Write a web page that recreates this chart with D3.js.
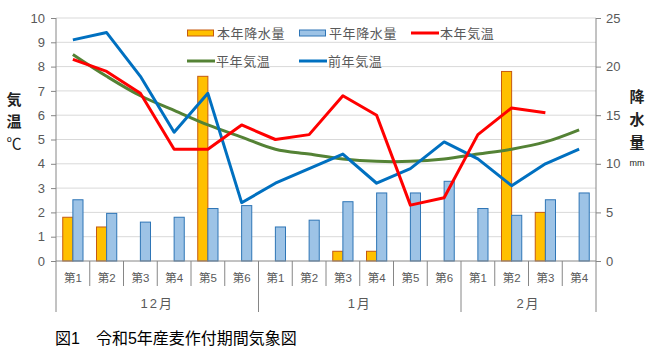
<!DOCTYPE html>
<html>
<head>
<meta charset="utf-8">
<script src="https://cdn.jsdelivr.net/npm/d3@7"></script>
<style>
  body { margin: 0; background: #fff; }
  svg { display: block; font-family: "Liberation Sans", "Noto Sans CJK JP", sans-serif; }
</style>
</head>
<body>
<svg id="chart" width="654" height="351"></svg>
<script>
// categories (weeks) and month groups
var weeks = ['第1','第2','第3','第4','第5','第6','第1','第2','第3','第4','第5','第6','第1','第2','第3','第4'];
var months = [
  { name: '12月', from: 0, to: 6 },
  { name: '1月', from: 6, to: 12 },
  { name: '2月', from: 12, to: 16 }
];

// precipitation (mm, right axis)
var rainThisYear = [4.5, 3.5, 0, 0, 19, 0, 0, 0, 1, 1, 0, 0, 0, 19.5, 5, 0];
var rainNormal   = [6.3, 4.9, 4.0, 4.5, 5.4, 5.7, 3.5, 4.2, 6.1, 7.0, 7.0, 8.2, 5.4, 4.7, 6.3, 7.0];

// temperature (°C, left axis)
var tempThisYear = [8.3, 7.8, 6.9, 4.6, 4.6, 5.6, 5.0, 5.2, 6.8, 6.0, 2.3, 2.6, 5.2, 6.3, 6.1, null];
var tempNormal   = [8.5, 7.6, 6.8, 6.2, 5.6, 5.1, 4.6, 4.4, 4.2, 4.1, 4.1, 4.2, 4.4, 4.6, 4.9, 5.4];
var tempLastYear = [9.1, 9.4, 7.6, 5.3, 6.9, 2.4, 3.2, 3.8, 4.4, 3.2, 3.8, 4.9, 4.2, 3.1, 4.0, 4.6];

var leftTicks = d3.range(0, 11);
var rightTicks = [0, 5, 10, 15, 20, 25];

(function() {

	var svg = d3.select('#chart');

	var left = 56, right = 596, top = 18, bottom = 261,
		textColor = '#595959',
		gridColor = '#d9d9d9',
		axisColor = '#868686';

	var x = d3.scaleBand()
		.domain(d3.range(weeks.length))
		.range([left, right])
		.padding(0);

	var xBar = d3.scaleBand()
		.domain(['this', 'normal'])
		.range([x.bandwidth() * 0.2, x.bandwidth() * 0.8])
		.padding(0);

	var yL = d3.scaleLinear().domain([0, 10]).range([bottom, top]);
	var yR = d3.scaleLinear().domain([0, 25]).range([bottom, top]);

	//gridlines
	svg.append('g').selectAll('line')
		.data(leftTicks.filter(function(d) { return d > 0; }))
		.enter().append('line')
			.attr('x1', left).attr('x2', right)
			.attr('y1', function(d) { return yL(d); })
			.attr('y2', function(d) { return yL(d); })
			.attr('stroke', gridColor)
			.attr('stroke-width', 1);

	//left axis
	var axL = svg.append('g')
		.attr('transform', 'translate(' + left + ',0)')
		.call(d3.axisLeft(yL).tickValues(leftTicks).tickSize(5).tickPadding(6));
	axL.select('.domain').remove();
	axL.selectAll('line').attr('stroke', axisColor);
	axL.selectAll('text').attr('fill', textColor).attr('font-size', 13);

	//right axis
	var axR = svg.append('g')
		.attr('transform', 'translate(' + right + ',0)')
		.call(d3.axisRight(yR).tickValues(rightTicks).tickSize(5).tickPadding(5));
	axR.select('.domain').remove();
	axR.selectAll('line').attr('stroke', axisColor);
	axR.selectAll('text').attr('fill', textColor).attr('font-size', 13);

	//bars
	var bars = svg.append('g');
	var rainRows = rainThisYear.map(function(v, i) { return { i: i, v: v }; })
		.filter(function(d) { return d.v > 0; });
	bars.selectAll('rect.this')
		.data(rainRows)
		.enter().append('rect')
			.attr('class', 'this')
			.attr('x', function(d) { return x(d.i) + xBar('this'); })
			.attr('y', function(d) { return yR(d.v); })
			.attr('width', xBar.bandwidth())
			.attr('height', function(d) { return yR(0) - yR(d.v); })
			.attr('fill', '#ffc000')
			.attr('stroke', '#c55a11')
			.attr('stroke-width', 1);

	bars.selectAll('rect.normal')
		.data(rainNormal)
		.enter().append('rect')
			.attr('class', 'normal')
			.attr('x', function(d, i) { return x(i) + xBar('normal'); })
			.attr('y', function(d) { return yR(d); })
			.attr('width', xBar.bandwidth())
			.attr('height', function(d) { return yR(0) - yR(d); })
			.attr('fill', '#9dc3e6')
			.attr('stroke', '#2e75b6')
			.attr('stroke-width', 1);

	//axis lines
	svg.append('line').attr('x1', left).attr('x2', right).attr('y1', bottom).attr('y2', bottom)
		.attr('stroke', axisColor);
	svg.append('line').attr('x1', left).attr('x2', left).attr('y1', top).attr('y2', 312)
		.attr('stroke', axisColor);
	svg.append('line').attr('x1', right).attr('x2', right).attr('y1', top).attr('y2', 312)
		.attr('stroke', axisColor);

	//category ticks
	var sepIdx = months.map(function(m) { return m.from; });
	svg.append('g').selectAll('line')
		.data(d3.range(1, weeks.length))
		.enter().append('line')
			.attr('x1', function(i) { return x(i); })
			.attr('x2', function(i) { return x(i); })
			.attr('y1', bottom)
			.attr('y2', function(i) { return sepIdx.indexOf(i) >= 0 ? 312 : 286; })
			.attr('stroke', axisColor);

	svg.append('g').selectAll('text')
		.data(weeks)
		.enter().append('text')
			.attr('x', function(d, i) { return x(i) + x.bandwidth() / 2; })
			.attr('y', 278)
			.attr('dy', '0.35em')
			.attr('text-anchor', 'middle')
			.attr('font-size', 11.5)
			.attr('fill', textColor)
			.text(function(d) { return d; });

	svg.append('g').selectAll('text')
		.data(months)
		.enter().append('text')
			.attr('x', function(d) { return (x(d.from) + x(d.to - 1) + x.bandwidth()) / 2; })
			.attr('y', 303)
			.attr('dy', '0.35em')
			.attr('text-anchor', 'middle')
			.attr('font-size', 13)
			.attr('letter-spacing', 2)
			.attr('fill', textColor)
			.text(function(d) { return d.name; });

	//lines
	var cx = function(d, i) { return x(i) + x.bandwidth() / 2; };
	var series = [
		{ data: tempNormal, color: '#548235', curve: d3.curveCatmullRom.alpha(0.5) },
		{ data: tempLastYear, color: '#0070c0', curve: d3.curveLinear },
		{ data: tempThisYear, color: '#ff0000', curve: d3.curveLinear }
	];
	series.forEach(function(s) {
		var line = d3.line()
			.defined(function(d) { return d != null; })
			.x(cx)
			.y(function(d) { return yL(d); })
			.curve(s.curve);
		svg.append('path')
			.datum(s.data)
			.attr('d', line)
			.attr('fill', 'none')
			.attr('stroke', s.color)
			.attr('stroke-width', 3)
			.attr('stroke-linejoin', 'round');
	});

	//legend
	var legend = [
		{ name: '本年降水量', type: 'bar', fill: '#ffc000', stroke: '#c55a11', x: 187, y: 33 },
		{ name: '平年降水量', type: 'bar', fill: '#9dc3e6', stroke: '#2e75b6', x: 299, y: 33 },
		{ name: '本年気温', type: 'line', stroke: '#ff0000', x: 411, y: 33 },
		{ name: '平年気温', type: 'line', stroke: '#548235', x: 187, y: 61 },
		{ name: '前年気温', type: 'line', stroke: '#0070c0', x: 299, y: 61 }
	];
	var lg = svg.append('g').selectAll('g')
		.data(legend)
		.enter().append('g')
			.attr('transform', function(d) { return 'translate(' + d.x + ',' + d.y + ')'; });
	lg.filter(function(d) { return d.type == 'bar'; })
		.append('rect')
			.attr('x', 0.5).attr('y', -3)
			.attr('width', 26).attr('height', 6)
			.attr('fill', function(d) { return d.fill; })
			.attr('stroke', function(d) { return d.stroke; });
	lg.filter(function(d) { return d.type == 'line'; })
		.append('line')
			.attr('x1', 0).attr('x2', 28)
			.attr('stroke', function(d) { return d.stroke; })
			.attr('stroke-width', 3);
	lg.append('text')
		.attr('x', function(d) { return d.type == 'bar' ? 30 : 29; })
		.attr('dy', '0.35em')
		.attr('font-size', 13)
		.attr('letter-spacing', 0.6)
		.attr('fill', textColor)
		.text(function(d) { return d.name; });

	//axis titles
	var yTitleL = ['気', '温', '℃'], yTitleR = ['降', '水', '量'];
	svg.append('g').selectAll('text')
		.data(yTitleL)
		.enter().append('text')
			.attr('x', 14)
			.attr('y', function(d, i) { return 100 + i * 22; })
			.attr('dy', '0.35em')
			.attr('text-anchor', 'middle')
			.attr('font-size', 15)
			.attr('font-weight', function(d) { return d == '℃' ? 'normal' : 'bold'; })
			.attr('fill', '#222')
			.text(function(d) { return d; });
	svg.append('g').selectAll('text')
		.data(yTitleR)
		.enter().append('text')
			.attr('x', 637)
			.attr('y', function(d, i) { return 97 + i * 23; })
			.attr('dy', '0.35em')
			.attr('text-anchor', 'middle')
			.attr('font-size', 15)
			.attr('font-weight', 'bold')
			.attr('fill', '#222')
			.text(function(d) { return d; });
	svg.append('text')
		.attr('x', 637).attr('y', 163).attr('dy', '0.35em')
		.attr('text-anchor', 'middle')
		.attr('font-size', 9)
		.attr('fill', '#222')
		.text('mm');

	//figure title
	svg.append('text')
		.attr('x', 55).attr('y', 338).attr('dy', '0.35em')
		.attr('font-size', 16)
		.attr('fill', '#000')
		.text('図1　令和5年産麦作付期間気象図');

}());
</script>
</body>
</html>
